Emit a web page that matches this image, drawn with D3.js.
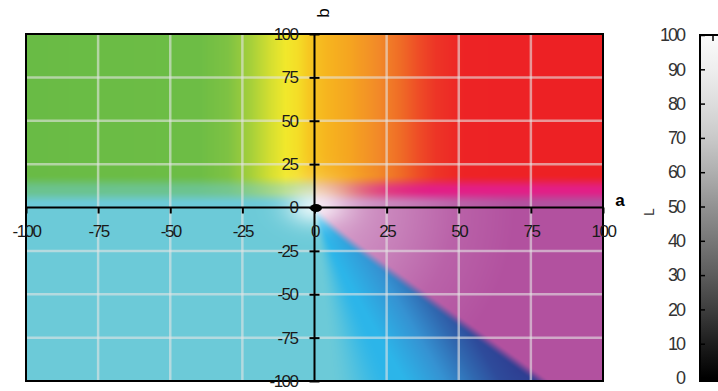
<!DOCTYPE html>
<html>
<head>
<meta charset="utf-8">
<script src="https://cdn.jsdelivr.net/npm/d3@7"></script>
<style>
  body { margin: 0; background: #fff; }
  svg { display: block; font-family: "Liberation Sans", Arial, sans-serif; }
</style>
</head>
<body>
<svg id="chart" width="718" height="391"></svg>
<script>
// ---- axis ticks ----
const aTicks = [-100, -75, -50, -25, 0, 25, 50, 75, 100];
const bTicks = [-100, -75, -50, -25, 0, 25, 50, 75, 100];
const gridValues = [-75, -50, -25, 25, 50, 75];
const lTicks = [0, 10, 20, 30, 40, 50, 60, 70, 80, 90, 100];

// ---- colour field: upper half plane, colour by a* ----
const upperA = [-100, -40, -30, -22, -15, -10, -6, -2, 4, 12, 22, 30, 36, 42, 52, 100];
const upperColors = ["#69bb45", "#6dbd45", "#7ec243", "#a6d03a", "#d6df30", "#f1e82b", "#f4de27",
  "#f6c821", "#f6b51f", "#f5a520", "#f28a28", "#ef6b26", "#ee4d26", "#ed3526", "#ed2325", "#ed2024"];

// transition band between the halves (b* lower edge, middle, upper edge)
const bandB = [2, 10, 19];
// how far the band turns hot pink, by a*
const pinkA = [-100, 0, 10, 25, 40, 100];
const pinkAmount = [0, 0, 0.2, 0.7, 1, 1];

// lower half plane
const cyanColor = "#6ccad8";
const magentaColor = "#b2519f";
const hotPinkColor = "#e21f86";
// blue wedge: darkness 0..1
const blueT = [0, 0.3, 0.55, 0.75, 1];
const blueColors = ["#2cb5e9", "#3592d2", "#3068b0", "#2e4b9b", "#2e3c90"];
// magenta lightening toward the origin (pixel radius)
const liftR = [0, 40, 90, 140, 200];
const liftAmount = [0.45, 0.4, 0.26, 0.1, 0];
// blue / magenta dividing line: b* = slope * a* + offset
const divideSlope = -1.2, divideOffset = -5.5;
// cyan / sky-blue hue angles (degrees)
const skyAngles = [-87, -75];
// white glow round the origin (px): left, right, up, down
const glowSigma = [28, 32, 24, 18];
const glowStrength = 0.78;

const W = 718, H = 391;
const X0 = 26, X1 = 603, Y0 = 34, Y1 = 381;

const x = d3.scaleLinear().domain([-100, 100]).range([X0, X1]);
const y = d3.scaleLinear().domain([-100, 100]).range([Y1, Y0]);
const lScale = d3.scaleLinear().domain([0, 100]).range([378, 35]);

const svg = d3.select("#chart");

// ---- colour helpers ----
const toRGB = c => { const q = d3.rgb(c); return [q.r, q.g, q.b]; };
const ramp = (dom, cols) => d3.scaleLinear().domain(dom).range(cols.map(toRGB)).clamp(true);
const S = t => { t = Math.max(0, Math.min(1, t)); return t * t * (3 - 2 * t); };
const mix = (p, q, t) => [p[0] + (q[0] - p[0]) * t, p[1] + (q[1] - p[1]) * t, p[2] + (q[2] - p[2]) * t];

const upper = ramp(upperA, upperColors);
const blue = ramp(blueT, blueColors);
const pinkW = d3.scaleLinear().domain(pinkA).range(pinkAmount).clamp(true);
const lift = d3.scaleLinear().domain(liftR).range(liftAmount).clamp(true);
const cyan = toRGB(cyanColor), magenta = toRGB(magentaColor), hotPink = toRGB(hotPinkColor);
const white = [255, 255, 255];
const ox = x(0), oy = y(0);
const hScale = Math.abs((x(1) - x(0)) / divideSlope);

function fieldColor(X, Y) {
  const a = x.invert(X), b = y.invert(Y);
  const dx = X - ox, dy = Y - oy;
  const rpx = Math.hypot(dx, dy);
  const theta = Math.atan2(b, a) * 180 / Math.PI;

  // lower half: cyan, blue wedge, magenta
  const ap = Math.max(a, 0);
  const fb = divideSlope * ap + divideOffset * (1 - Math.exp(-ap / 5));
  const mw = S((b - fb) / 8 + 0.5) * S(a / 3 + 0.5);
  const skyW = theta < 0 ? S((theta - skyAngles[0]) / (skyAngles[1] - skyAngles[0])) : 0;
  const h = Math.max(0, (fb - b) * hScale);
  const t = Math.max(0, 1 - h / (0.7 * rpx + 1e-6)) * Math.min(1, rpx / 260);
  const blueSide = mix(cyan, blue(t), skyW);
  const mag = mix(magenta, white, lift(rpx));
  let c = mix(blueSide, mag, mw);

  // band and upper half
  if (b > bandB[0]) {
    const U = upper(a);
    const M = mix(mix(U, c, 0.5), hotPink, pinkW(a));
    if (b < bandB[1]) c = mix(c, M, S((b - bandB[0]) / (bandB[1] - bandB[0])));
    else c = mix(M, U, S((b - bandB[1]) / (bandB[2] - bandB[1])));
  }

  // glow
  const sx = dx < 0 ? glowSigma[0] : glowSigma[1];
  const sy = dy < 0 ? glowSigma[2] : glowSigma[3];
  const w = glowStrength * Math.exp(-(dx * dx / (sx * sx) + dy * dy / (sy * sy)));
  return mix(c, white, w);
}

// ---- raster of the a*/b* plane ----
const pw = X1 - X0, ph = Y1 - Y0;
const canvas = document.createElement("canvas");
canvas.width = pw; canvas.height = ph;
const ctx = canvas.getContext("2d");
const img = ctx.createImageData(pw, ph);
for (let j = 0; j < ph; j++) {
  for (let i = 0; i < pw; i++) {
    const c = fieldColor(X0 + i + 0.5, Y0 + j + 0.5);
    const k = (j * pw + i) * 4;
    img.data[k] = c[0]; img.data[k + 1] = c[1]; img.data[k + 2] = c[2]; img.data[k + 3] = 255;
  }
}
ctx.putImageData(img, 0, 0);

svg.append("image")
  .attr("x", X0).attr("y", Y0).attr("width", pw).attr("height", ph)
  .attr("preserveAspectRatio", "none")
  .attr("href", canvas.toDataURL());

// ---- grid ----
const grid = svg.append("g").attr("stroke", "#e4e4e4").attr("stroke-opacity", 0.6).attr("stroke-width", 2.5);
grid.selectAll("line.v").data(gridValues).join("line").attr("class", "v")
  .attr("x1", d => x(d)).attr("x2", d => x(d)).attr("y1", Y0).attr("y2", Y1);
grid.selectAll("line.h").data(gridValues).join("line").attr("class", "h")
  .attr("x1", X0).attr("x2", X1).attr("y1", d => y(d)).attr("y2", d => y(d));

// ---- frame and axes through origin ----
svg.append("rect").attr("x", X0).attr("y", Y0).attr("width", pw).attr("height", ph)
  .attr("fill", "none").attr("stroke", "#000").attr("stroke-width", 2);
svg.append("line").attr("x1", X0).attr("x2", X1).attr("y1", oy).attr("y2", oy)
  .attr("stroke", "#000").attr("stroke-width", 2);
svg.append("line").attr("x1", ox).attr("x2", ox).attr("y1", Y0).attr("y2", Y1)
  .attr("stroke", "#000").attr("stroke-width", 2);

// origin marker
svg.append("ellipse").attr("cx", ox + 1.5).attr("cy", oy + 0.5).attr("rx", 6).attr("ry", 4).attr("fill", "#000");

const plain = d => String(d);
const styleAxis = g => {
  g.select(".domain").remove();
  g.selectAll("text").attr("font-size", 17).attr("letter-spacing", "-1.5px").attr("fill", "#1a1a1a")
    .attr("font-family", "'Liberation Sans', Arial, sans-serif");
  g.selectAll(".tick line").attr("stroke", "#000").attr("stroke-width", 2);
};

// a* axis
svg.append("g").attr("transform", `translate(0,${oy})`)
  .call(d3.axisBottom(x).tickValues(aTicks).tickFormat(plain).tickSizeInner(6).tickSizeOuter(0).tickPadding(11))
  .call(styleAxis);

// b* axis
svg.append("g").attr("transform", `translate(${ox},0)`)
  .call(d3.axisLeft(y).tickValues(bTicks).tickFormat(plain).tickSizeInner(5).tickSizeOuter(0).tickPadding(12))
  .call(styleAxis)
  .call(g => g.selectAll(".tick line").attr("x1", 5));

// axis titles
svg.append("text").attr("x", 620).attr("y", 206).attr("text-anchor", "middle")
  .attr("font-size", 17).attr("font-weight", "bold").attr("fill", "#000").text("a");
svg.append("text").attr("transform", "translate(329,13) rotate(-90)").attr("text-anchor", "middle")
  .attr("font-size", 17).attr("fill", "#000").text("b");

// ---- L colour bar ----
const defs = svg.append("defs");
const grad = defs.append("linearGradient").attr("id", "lgrad")
  .attr("gradientUnits", "userSpaceOnUse").attr("x1", 0).attr("x2", 0)
  .attr("y1", lScale(0)).attr("y2", lScale(100));
grad.selectAll("stop").data(lTicks).join("stop")
  .attr("offset", d => d / 100)
  .attr("stop-color", d => d3.interpolateGreys(1 - d / 100 * 0.97));

svg.append("rect").attr("x", 700).attr("y", 35).attr("width", 40).attr("height", 346)
  .attr("fill", "url(#lgrad)").attr("stroke", "#000").attr("stroke-width", 2);

svg.append("g").attr("transform", "translate(700,0)")
  .call(d3.axisLeft(lScale).tickValues(lTicks).tickFormat(plain).tickSizeInner(-5).tickSizeOuter(0).tickPadding(16))
  .call(g => {
    g.select(".domain").remove();
    g.selectAll("text").attr("font-size", 18).attr("letter-spacing", "-2px").attr("fill", "#333")
      .attr("font-family", "'Liberation Sans', Arial, sans-serif");
    g.selectAll(".tick line").attr("stroke", "#000").attr("stroke-width", 1.5);
  });
svg.append("line").attr("x1", 713).attr("x2", 713).attr("y1", 35).attr("y2", 41)
  .attr("stroke", "#000").attr("stroke-width", 1.5);

svg.append("text").attr("transform", "translate(654,212) rotate(-90)").attr("text-anchor", "middle")
  .attr("font-size", 14).attr("fill", "#333").text("L");
</script>
</body>
</html>
